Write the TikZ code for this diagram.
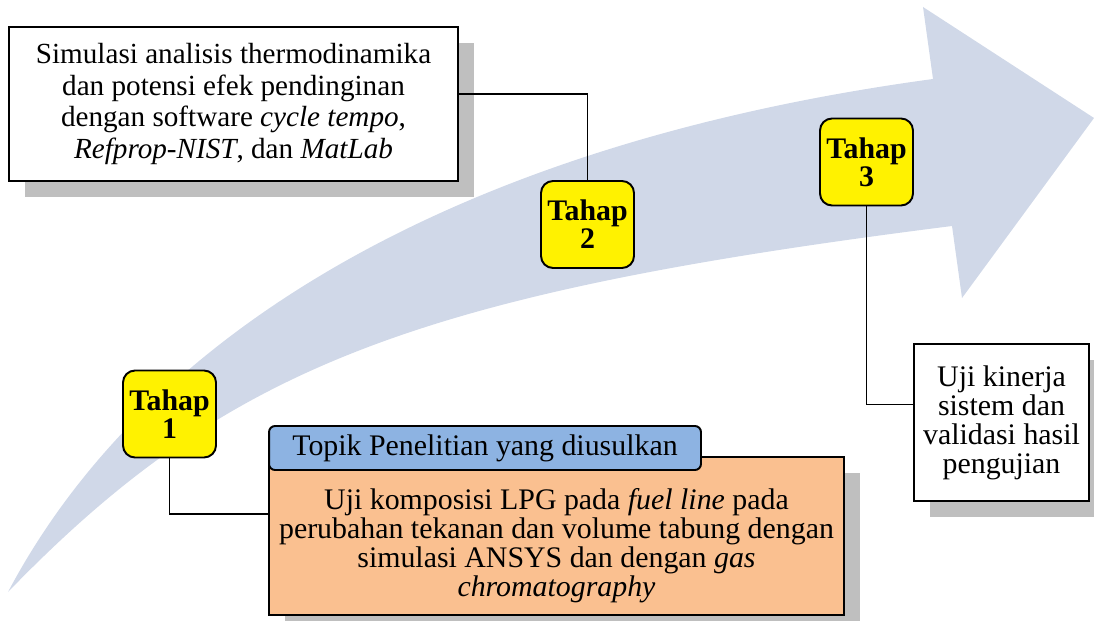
\documentclass[tikz,border=0pt]{standalone}
\usepackage{fontspec}
\setmainfont{Liberation Serif}
\usetikzlibrary{shadows}
\definecolor{arrowblue}{HTML}{D0D8E8}
\definecolor{headblue}{HTML}{8DB3E2}
\definecolor{boxorange}{HTML}{FAC090}
\definecolor{shadowgray}{HTML}{BFBFBF}
\tikzset{
  base/.style={draw=black, line width=1.1pt, align=center, inner sep=0pt},
  shadowed/.style={drop shadow={shadow xshift=0.32cm, shadow yshift=-0.32cm, fill=shadowgray, opacity=1}},
  stagebox/.style={base, fill=yellow, rounded corners=0.24cm, minimum width=1.86cm, minimum height=1.74cm, font=\fontsize{17}{16}\selectfont\bfseries},
  textbox/.style={base, fill=white, shadowed, font=\fontsize{16.6}{18}\selectfont},
  link/.style={draw=black, line width=0.85pt}
}
\begin{document}
\begin{tikzpicture}[x=0.02cm, y=-0.02cm]
\useasboundingbox (0,0) rectangle (1094,621);
%%%%%%%%%%%%%%%%%%%%%%%%%%%%%%%%%%%%%%%%%%% HELP LINES
%\draw[help lines, step=50] (0,0) grid (1094,621);

%%%%%%%%%%%%%%%%%%%%%%%%%%%%%%%%%%%%%%%%%%% big arrow
\fill[arrowblue] (8,592) .. controls (152,320) and (476,141) .. (933,79)
  -- (923,7) -- (1094,118) -- (962,298) -- (952,226)
  .. controls (414,294) and (226,367) .. (8,592) -- cycle;

%%%%%%%%%%%%%%%%%%%%%%%%%%%%%%%%%%%%%%%%%%% elements
\node[textbox, minimum width=8.98cm, minimum height=3.08cm] (sim) at (233.5,104)
  {Simulasi analisis thermodinamika\\dan potensi efek pendinginan\\dengan software \textit{cycle tempo},\\\textit{Refprop-NIST}, dan \textit{MatLab}};
\node[stagebox] (tahap1) at (169.5,414) {Tahap\\1};
\node[stagebox] (tahap2) at (587.5,224.5) {Tahap\\2};
\node[stagebox] (tahap3) at (866.5,162) {Tahap\\3};
\node[textbox, minimum width=3.5cm, minimum height=3.14cm, font=\fontsize{17}{16.5}\selectfont] (uji) at (1001.5,422.5)
  {Uji kinerja\\sistem dan\\validasi hasil\\pengujian};

%%%%% proposed topic
\node[base, fill=boxorange, shadowed, minimum width=11.5cm, minimum height=3.16cm] (topik) at (556.5,536) {};
\node[align=center, font=\fontsize{17}{16.5}\selectfont] (topiktext) at (556.5,546)
  {Uji komposisi LPG pada \textit{fuel line} pada\\perubahan tekanan dan volume tabung dengan\\simulasi ANSYS dan dengan \textit{gas}\\\textit{chromatography}};
\node[base, fill=headblue, rounded corners=0.12cm, minimum width=8.64cm, minimum height=0.88cm, font=\fontsize{17}{17}\selectfont] (judul) at (485,448)
  {Topik Penelitian yang diusulkan};

%%%%% connectors
\draw[link] ([yshift=0.2cm]sim.east) -| (tahap2.north);
\draw[link] (tahap3.south) |- ([yshift=0.36cm]uji.west);
\draw[link] (tahap1.south) |- ([yshift=0.44cm]topik.west);
\end{tikzpicture}
\end{document}
